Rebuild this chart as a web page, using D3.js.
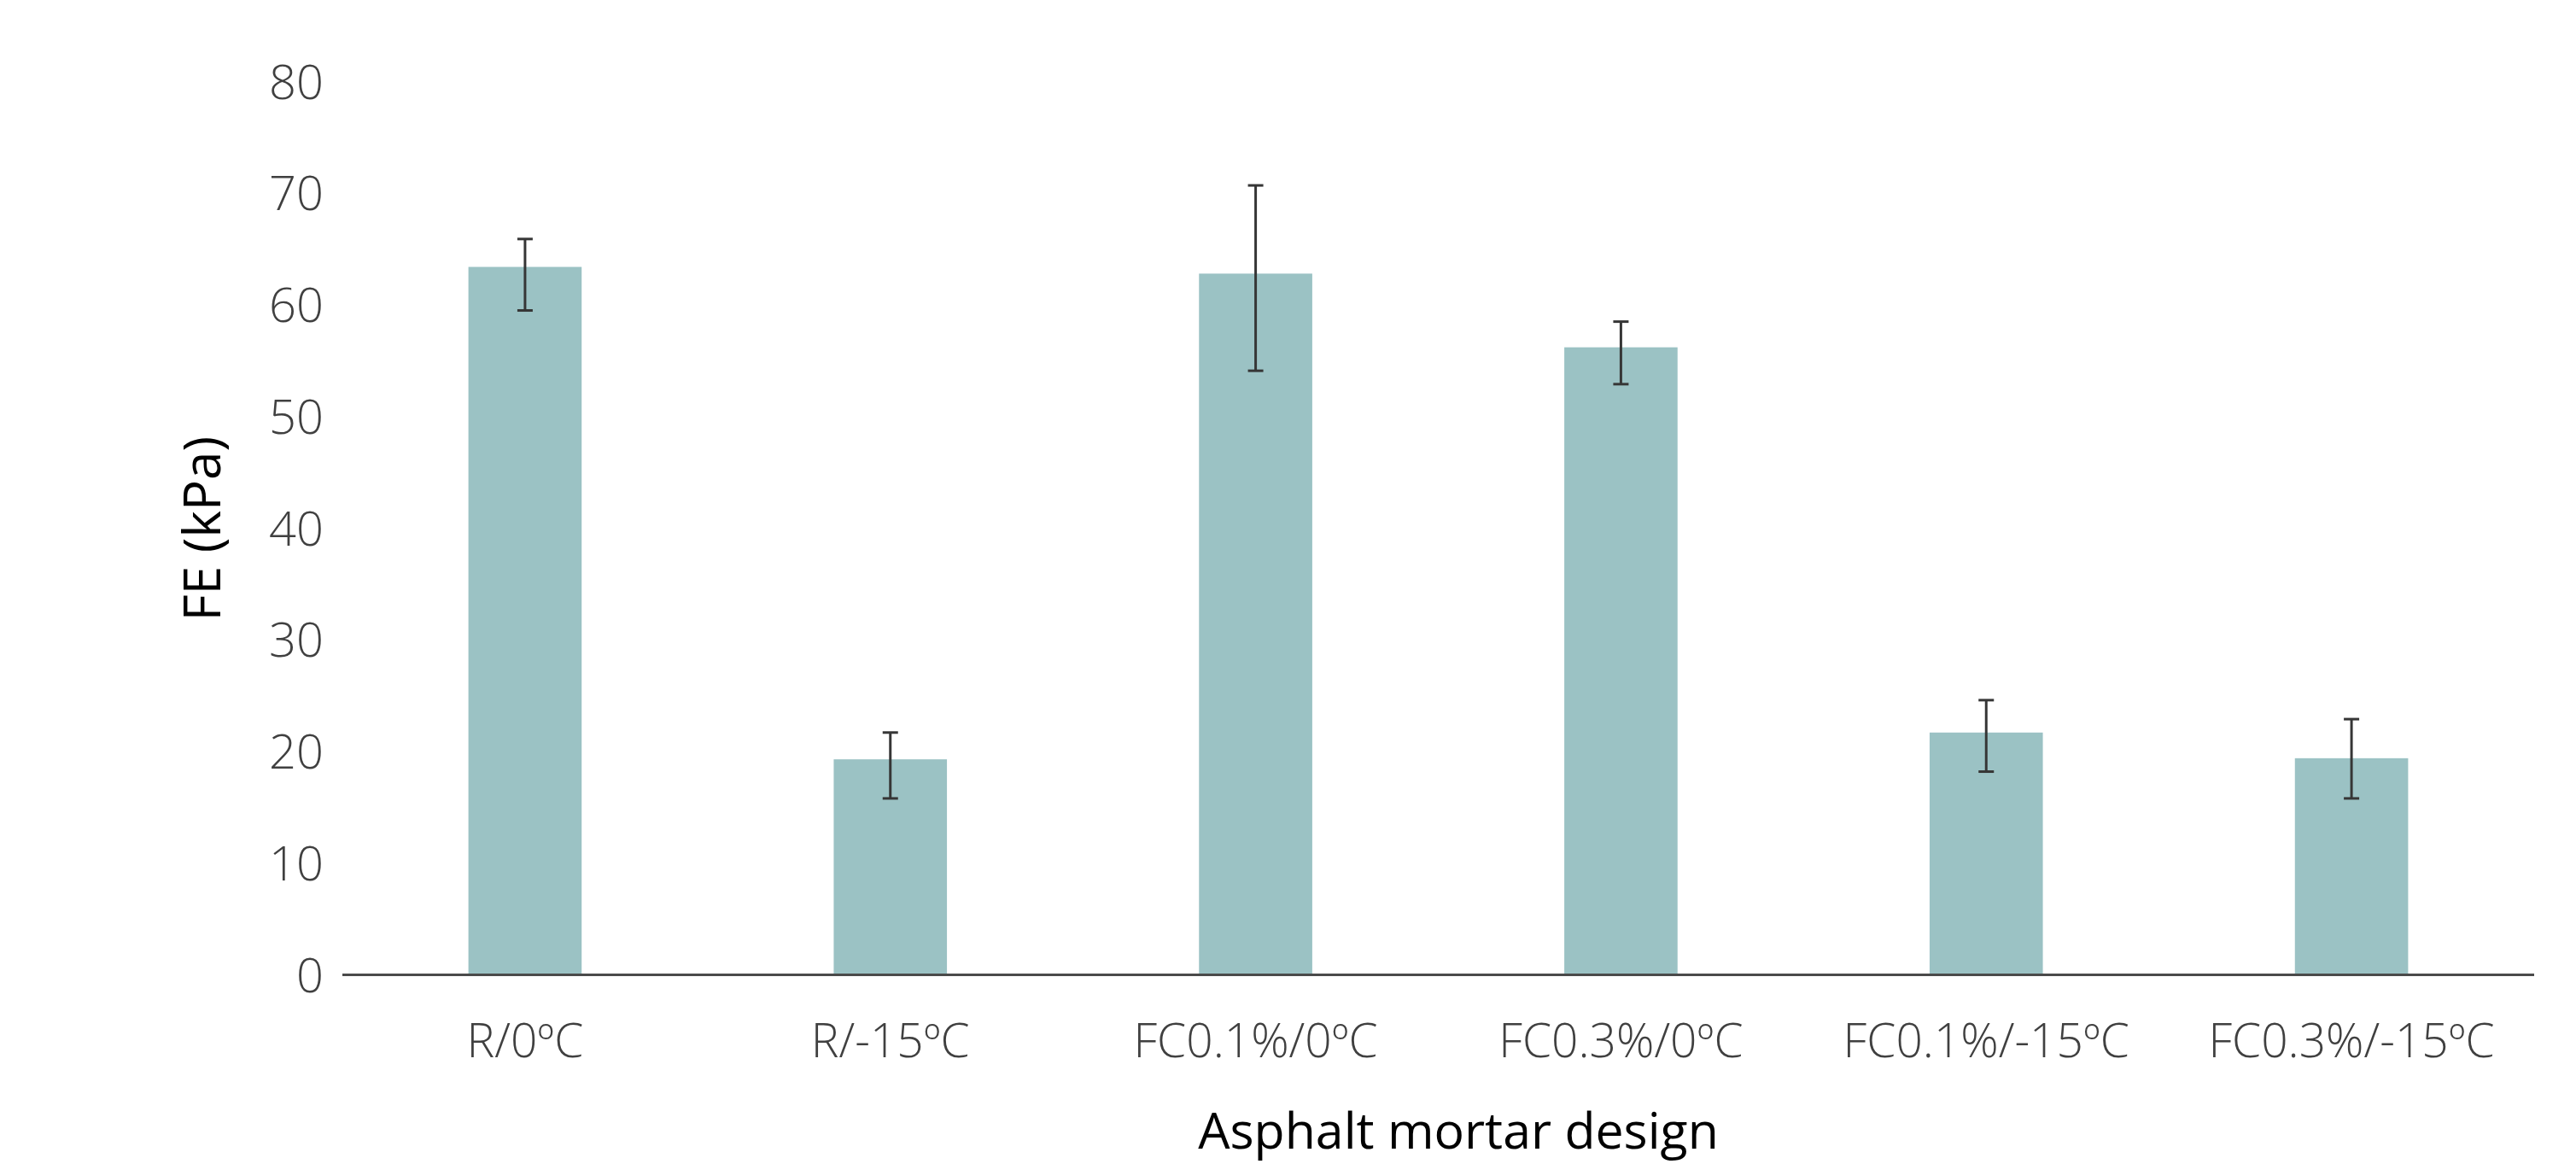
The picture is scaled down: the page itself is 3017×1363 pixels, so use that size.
<!DOCTYPE html>
<html>
<head>
<meta charset="utf-8">
<script src="https://cdn.jsdelivr.net/npm/d3@7"></script>
<style>
  html, body { margin: 0; padding: 0; background: #ffffff; }
  svg { display: block; }
  .tick-label { font-family: "Open Sans", "Noto Sans", sans-serif; font-weight: 300; fill: #404040; }
  .axis-title { font-family: "Open Sans", "Noto Sans", sans-serif; font-weight: 400; fill: #000000; }
</style>
</head>
<body>
<svg id="chart" width="3017" height="1363"></svg>
<script>
// Asphalt mortar designs and their FE values (kPa)
const categories = ["R/0ºC", "R/-15ºC", "FC0.1%/0ºC", "FC0.3%/0ºC", "FC0.1%/-15ºC", "FC0.3%/-15ºC"];
const feValues  = [63.4, 19.3, 62.8, 56.2, 21.7, 19.4];
const errUpper  = [65.9, 21.7, 70.7, 58.5, 24.6, 22.9];
const errLower  = [59.5, 15.8, 54.1, 52.9, 18.2, 15.8];
const yTicks    = [0, 10, 20, 30, 40, 50, 60, 70, 80];

const yTitle = "FE (kPa)";
const xTitle = "Asphalt mortar design";

const rows = categories.map((c, i) => ({
  cat: c, value: feValues[i], hi: errUpper[i], lo: errLower[i]
}));

const svg = d3.select("#chart");
svg.append("rect").attr("width", 3017).attr("height", 1363).attr("fill", "#ffffff");

const plot = { left: 401, right: 2968, top: 95.5, bottom: 1141.5 };

const gap = 0.69;
const x = d3.scaleBand()
  .domain(categories)
  .range([plot.left, plot.right])
  .paddingInner(gap)
  .paddingOuter(gap / 2);

const y = d3.scaleLinear()
  .domain([0, 80])
  .range([plot.bottom, plot.top]);

// bars
svg.append("g")
  .selectAll("rect")
  .data(rows)
  .join("rect")
  .attr("x", d => x(d.cat))
  .attr("y", d => y(d.value))
  .attr("width", x.bandwidth())
  .attr("height", d => y(0) - y(d.value))
  .attr("fill", "#9bc2c4");

// error bars
const capHalf = 9;
const eb = svg.append("g")
  .attr("stroke", "#363636")
  .attr("stroke-width", 3)
  .selectAll("g")
  .data(rows)
  .join("g")
  .attr("transform", d => `translate(${x(d.cat) + x.bandwidth() / 2},0)`);

eb.append("line").attr("x1", 0).attr("x2", 0)
  .attr("y1", d => y(d.hi)).attr("y2", d => y(d.lo));
eb.append("line").attr("x1", -capHalf).attr("x2", capHalf)
  .attr("y1", d => y(d.hi)).attr("y2", d => y(d.hi));
eb.append("line").attr("x1", -capHalf).attr("x2", capHalf)
  .attr("y1", d => y(d.lo)).attr("y2", d => y(d.lo));

// y axis: labels only, no line
const yAxis = d3.axisLeft(y).tickValues(yTicks).tickSize(0).tickPadding(22);
const gy = svg.append("g")
  .attr("transform", `translate(${plot.left},0)`)
  .call(yAxis);
gy.select(".domain").remove();
gy.selectAll("text")
  .attr("class", "tick-label")
  .attr("font-size", 56)
  .attr("dy", "0.35em");

// x axis with baseline
const xAxis = d3.axisBottom(x).tickSize(0).tickPadding(57);
const gx = svg.append("g")
  .attr("transform", `translate(0,${plot.bottom})`)
  .call(xAxis);
gx.select(".domain")
  .attr("d", `M${plot.left},0H${plot.right}`)
  .attr("stroke", "#4a4a4a")
  .attr("stroke-width", 3);
gx.selectAll("text")
  .attr("class", "tick-label")
  .attr("font-size", 55)
  .attr("dy", "0.71em");

// axis titles
svg.append("text")
  .attr("class", "axis-title")
  .attr("font-size", 60)
  .attr("text-anchor", "middle")
  .attr("transform", `translate(258,619) rotate(-90)`)
  .text(yTitle);

svg.append("text")
  .attr("class", "axis-title")
  .attr("font-size", 59)
  .attr("text-anchor", "middle")
  .attr("x", 1708)
  .attr("y", 1345)
  .text(xTitle);
</script>
</body>
</html>
